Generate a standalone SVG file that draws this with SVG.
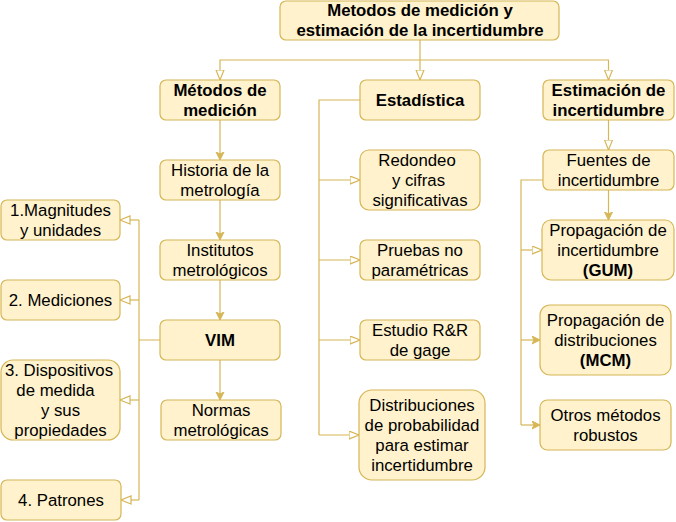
<svg xmlns="http://www.w3.org/2000/svg" width="676" height="522" viewBox="0 0 676 522">
<style>
.n rect{fill:#fff2cc;stroke:#d6b656;stroke-width:1.2}
.n text{font-family:"Liberation Sans",Arial,sans-serif;font-size:16.8px;fill:#000;text-anchor:middle}
.b{font-weight:bold}
.e path{fill:none;stroke:#d6b656;stroke-width:1.2}
.o{marker-end:url(#open)}
.f{marker-end:url(#fill)}
</style>
<defs>
<marker id="open" markerUnits="userSpaceOnUse" markerWidth="12" markerHeight="10" refX="10.5" refY="4.5" orient="auto" viewBox="0 0 12 10"><path d="M0.5,0.5 L10.5,4.5 L0.5,8.5 Z" fill="#fff" stroke="#d6b656" stroke-width="1.2"/></marker>
<marker id="fill" markerUnits="userSpaceOnUse" markerWidth="10" markerHeight="10" refX="8.5" refY="4.5" orient="auto" viewBox="0 0 10 10"><path d="M0.5,0.5 L8.5,4.5 L0.5,8.5 L2.5,4.5 Z" fill="#d6b656" stroke="#d6b656" stroke-width="1"/></marker>
</defs>
<g class="e" id="connectors">
<path class="o" d="M420,40 V80"/>
<path class="o" d="M420,60 H220 V80"/>
<path class="o" d="M420,60 H608.5 V80"/>
<path class="f" d="M220,120 V160"/>
<path class="f" d="M220,200 V240"/>
<path class="f" d="M220,280 V320"/>
<path class="f" d="M220,360 V400"/>
<path d="M160,340 H139 M139,220 V500"/>
<path class="o" d="M139,220 H120"/>
<path class="o" d="M139,300 H120"/>
<path class="o" d="M139,400 H120"/>
<path class="o" d="M139,500 H121"/>
<path d="M360,100 H319 V435"/>
<path class="o" d="M319,180 H360"/>
<path class="o" d="M319,260 H360"/>
<path class="o" d="M319,340 H360"/>
<path class="o" d="M319,435 H359"/>
<path class="o" d="M608.5,120 V150"/>
<path class="f" d="M608.5,190 V220"/>
<path d="M543,180 H521 V425"/>
<path class="o" d="M521,250 H542"/>
<path class="f" d="M521,340 H540"/>
<path class="f" d="M521,425 H540"/>
</g>
<g class="n" id="top"><rect x="280" y="1" width="279" height="39" rx="6"/><text class="b" x="420" y="16">Metodos de medición y</text><text class="b" x="420" y="36">estimación de la incertidumbre</text></g>
<g class="n" id="metodos"><rect x="160" y="80" width="120" height="40" rx="6"/><text class="b" x="220" y="96">Métodos de</text><text class="b" x="220" y="116">medición</text></g>
<g class="n" id="historia"><rect x="160" y="160" width="120" height="40" rx="6"/><text x="220" y="176">Historia de la</text><text x="220" y="196">metrología</text></g>
<g class="n" id="institutos"><rect x="160" y="240" width="120" height="40" rx="6"/><text x="220" y="256">Institutos</text><text x="220" y="276">metrológicos</text></g>
<g class="n" id="vim"><rect x="160" y="320" width="120" height="40" rx="6"/><text class="b" x="220" y="346">VIM</text></g>
<g class="n" id="normas"><rect x="161" y="400" width="120" height="40" rx="6"/><text x="221" y="416">Normas</text><text x="221" y="436">metrológicas</text></g>
<g class="n" id="magnitudes"><rect x="1" y="200" width="119" height="40" rx="6"/><text x="60.5" y="216">1.Magnitudes</text><text x="60.5" y="236">y unidades</text></g>
<g class="n" id="mediciones"><rect x="1" y="280" width="119" height="40" rx="6"/><text x="60.5" y="306">2. Mediciones</text></g>
<g class="n" id="dispositivos"><rect x="1" y="360" width="119" height="80" rx="12"/><text x="59" y="376">3. Dispositivos</text><text x="55.5" y="396">de medida</text><text x="60.5" y="416">y sus</text><text x="60.5" y="436">propiedades</text></g>
<g class="n" id="patrones"><rect x="1" y="480" width="120" height="40" rx="6"/><text x="61" y="506">4. Patrones</text></g>
<g class="n" id="estadistica"><rect x="360" y="80" width="120" height="40" rx="6"/><text class="b" x="420" y="106">Estadística</text></g>
<g class="n" id="redondeo"><rect x="360" y="150" width="120" height="60" rx="9"/><text x="417" y="166">Redondeo</text><text x="418.5" y="186">y cifras</text><text x="420" y="206">significativas</text></g>
<g class="n" id="pruebas"><rect x="360" y="240" width="120" height="40" rx="6"/><text x="420" y="256">Pruebas no</text><text x="420" y="276">paramétricas</text></g>
<g class="n" id="estudio"><rect x="360" y="320" width="120" height="40" rx="6"/><text x="420" y="336">Estudio R&amp;R</text><text x="420" y="356">de gage</text></g>
<g class="n" id="distribuciones"><rect x="359" y="390" width="126" height="90" rx="13"/><text x="422" y="411">Distribuciones</text><text x="422" y="431">de probabilidad</text><text x="422" y="451">para estimar</text><text x="422" y="471">incertidumbre</text></g>
<g class="n" id="estimacion"><rect x="543" y="80" width="131" height="40" rx="6"/><text class="b" x="608.5" y="96">Estimación de</text><text class="b" x="608.5" y="116">incertidumbre</text></g>
<g class="n" id="fuentes"><rect x="543" y="150" width="131" height="40" rx="6"/><text x="608.5" y="166">Fuentes de</text><text x="608.5" y="186">incertidumbre</text></g>
<g class="n" id="gum"><rect x="542" y="220" width="132" height="60" rx="9"/><text x="608" y="236">Propagación de</text><text x="608" y="256">incertidumbre</text><text class="b" x="608" y="276">(GUM)</text></g>
<g class="n" id="mcm"><rect x="540" y="305" width="131" height="70" rx="10"/><text x="605.5" y="326">Propagación de</text><text x="605.5" y="346">distribuciones</text><text class="b" x="605.5" y="366">(MCM)</text></g>
<g class="n" id="otros"><rect x="540" y="400" width="131" height="50" rx="7.5"/><text x="605.5" y="421">Otros métodos</text><text x="605.5" y="441">robustos</text></g>
</svg>
